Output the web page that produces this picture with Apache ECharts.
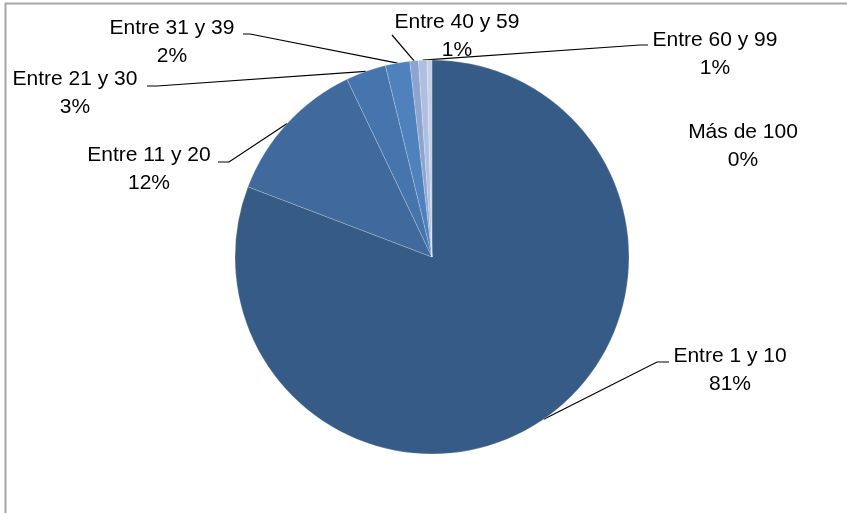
<!DOCTYPE html>
<html>
<head>
<meta charset="utf-8">
<script src="https://cdn.jsdelivr.net/npm/echarts@6/dist/echarts.min.js"></script>
<style>
  html, body { margin: 0; padding: 0; background: #fff; }
  #box_pie { width: 847px; height: 513px; }
</style>
</head>
<body>
<div id="box_pie"></div>
<script>
// categorias y valores (porcentaje)
var categories = ['Entre 1 y 10', 'Entre 11 y 20', 'Entre 21 y 30', 'Entre 31 y 39', 'Entre 40 y 59', 'Entre 60 y 99', 'Más de 100'];
var values = [80.8, 12.1, 3.3, 2.0, 0.7, 0.7, 0.4];

var colors = ['#375B87', '#40699C', '#4674AD', '#4F81BD', '#8CA5CF', '#AFBFDF', '#C6D1E8'];
// posicion de cada etiqueta (centro) y del codo de la linea guia
var labelPos = [[730, 370], [149, 169], [75, 93], [172, 42], [457, 36], [715, 54], [743, 146]];
var elbows = [
    [[657, 362], [669, 362]],
    [[229, 162], [218, 162]],
    [[157, 86], [147, 86]],
    [[250, 34], [243, 34]],
    [[392, 35]],
    [[640, 45], [648, 45]],
    null
];

var chart = echarts.init(document.getElementById('box_pie'));

var data = categories.map(function (c, i) {
    var item = { name: c, value: values[i], itemStyle: { color: colors[i] } };
    if (!elbows[i]) item.labelLine = { show: false };
    return item;
});

var cx = 432, cy = 257, r = 197;

var option = {
    animation: false,
    graphic: [
        { type: 'line', shape: { x1: 5, y1: 3.5, x2: 847, y2: 3.5 }, style: { stroke: '#A6A6A6', lineWidth: 2 } },
        { type: 'line', shape: { x1: 5.5, y1: 3, x2: 5.5, y2: 513 }, style: { stroke: '#A6A6A6', lineWidth: 2 } }
    ],
    series: [
        {
            type: 'pie',
            center: [cx, cy],
            radius: r,
            startAngle: 90,
            clockwise: true,
            avoidLabelOverlap: false,
            itemStyle: { borderColor: 'rgba(255,255,255,0.35)', borderWidth: 0.6 },
            label: {
                show: true,
                position: 'outside',
                color: '#000',
                fontFamily: 'Liberation Sans, Arial, sans-serif',
                fontSize: 21,
                lineHeight: 28,
                align: 'center',
                formatter: function (p) {
                    return p.name + '\n' + Math.round(p.percent) + '%';
                }
            },
            labelLine: {
                show: true,
                length: 10,
                length2: 10,
                lineStyle: { color: '#000', width: 1.2 }
            },
            labelLayout: function (params) {
                var i = params.dataIndex;
                var res = {
                    x: labelPos[i][0],
                    y: labelPos[i][1],
                    align: 'center',
                    verticalAlign: 'middle'
                };
                if (elbows[i]) {
                    var start;
                    if (params.labelLinePoints && params.labelLinePoints[0]) {
                        start = params.labelLinePoints[0];
                    } else {
                        var sum = values.reduce(function (a, b) { return a + b; }, 0);
                        var before = 0;
                        for (var k = 0; k < i; k++) before += values[k];
                        var mid = (before + values[i] / 2) / sum * Math.PI * 2;
                        start = [cx + r * Math.sin(mid), cy - r * Math.cos(mid)];
                    }
                    res.labelLinePoints = [start].concat(elbows[i]);
                }
                return res;
            },
            data: data
        }
    ]
};

chart.setOption(option);
window.addEventListener('resize', function () {
    chart.resize();
});
</script>
</body>
</html>
